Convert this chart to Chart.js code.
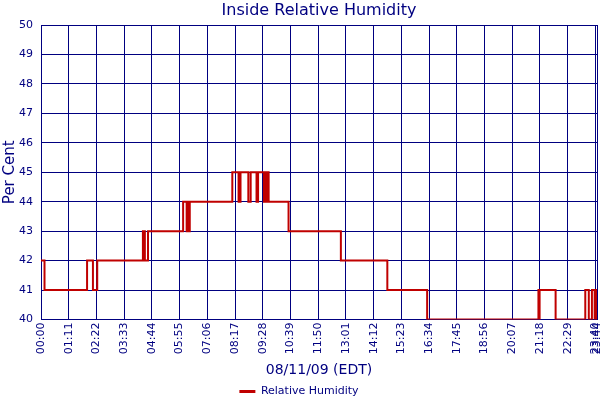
<!DOCTYPE html>
<html>
<head>
<meta charset="utf-8">
<script src="https://cdn.jsdelivr.net/npm/chart.js@4"></script>
<style>
  html, body { margin: 0; padding: 0; background: #fff; }
  #wrap { width: 600px; height: 400px; }
</style>
</head>
<body>
<div id="wrap"><canvas id="chart"></canvas></div>
<script>
// change points: from each time on, the value holds
const times = ['00:00', '00:09', '01:58', '02:13', '02:24', '04:21', '04:26', '04:34',
    '06:04', '06:13', '06:16', '06:17', '06:21', '08:10', '08:26', '08:31', '08:51',
    '08:57', '09:12', '09:16', '09:31', '09:34', '09:37', '09:39', '09:43', '10:34',
    '12:48', '14:47', '16:29', '21:14', '21:16', '21:17', '21:58', '23:14', '23:23',
    '23:31', '23:38', '23:39', '23:41', '23:42', '23:44'];
const humidity = [42, 41, 42, 41, 42, 43, 42, 43,
    44, 43, 44, 43, 44, 45, 44, 45, 44,
    45, 44, 45, 44, 45, 44, 45, 44, 43,
    42, 41, 40, 41, 40, 41, 40, 41, 40,
    41, 40, 41, 40, 41, 41];
const xTickLabels = ['00:00', '01:11', '02:22', '03:33', '04:44', '05:55', '07:06', '08:17',
    '09:28', '10:39', '11:50', '13:01', '14:12', '15:23', '16:34', '17:45', '18:56',
    '20:07', '21:18', '22:29', '23:40', '23:44'];
const yMin = 40, yMax = 50;

const NAVY = '#000080';
const RED = '#c00000';
const FONT = 'DejaVu Sans';
const TITLE = 'Inside Relative Humidity';

const toMin = (s) => {
    const p = s.split(':');
    return parseInt(p[0], 10) * 60 + parseInt(p[1], 10);
};
const fmt = (m) => {
    const h = Math.floor(m / 60), mm = Math.round(m % 60);
    return String(h).padStart(2, '0') + ':' + String(mm).padStart(2, '0');
};

const points = times.map((t, i) => ({ x: toMin(t), y: humidity[i] }));
const tickMinutes = xTickLabels.map(toMin);

// title centred over the plot area, not the whole canvas
const plotTitle = {
    id: 'plotTitle',
    afterDraw(chart) {
        const { ctx, chartArea } = chart;
        ctx.save();
        ctx.fillStyle = NAVY;
        ctx.font = '16px "' + FONT + '"';
        ctx.textAlign = 'center';
        ctx.textBaseline = 'middle';
        ctx.fillText(TITLE, (chartArea.left + chartArea.right) / 2, 11);
        ctx.restore();
    }
};

new Chart(document.getElementById('chart'), {
    type: 'line',
    data: {
        datasets: [{
            label: 'Relative Humidity',
            data: points,
            borderColor: RED,
            backgroundColor: RED,
            borderWidth: 2,
            pointRadius: 0,
            stepped: true,
            fill: false
        }]
    },
    plugins: [plotTitle],
    options: {
        responsive: true,
        maintainAspectRatio: false,
        animation: false,
        layout: { padding: { left: 1, right: 3, top: 25, bottom: -7 } },
        plugins: {
            title: { display: false },
            legend: {
                position: 'bottom',
                labels: {
                    color: NAVY,
                    font: { family: FONT, size: 11 },
                    usePointStyle: true,
                    pointStyle: 'line',
                    pointStyleWidth: 16,
                    padding: 1,
                    generateLabels: (chart) => {
                        const items = Chart.defaults.plugins.legend.labels.generateLabels(chart);
                        items.forEach(it => { it.lineWidth = 3; it.strokeStyle = RED; });
                        return items;
                    }
                }
            },
            tooltip: { enabled: false }
        },
        scales: {
            x: {
                type: 'linear',
                min: tickMinutes[0],
                max: tickMinutes[tickMinutes.length - 1],
                afterBuildTicks: (axis) => {
                    axis.ticks = tickMinutes.map(v => ({ value: v }));
                },
                afterFit: (axis) => {
                    axis.paddingLeft = 0;
                    axis.paddingRight = 0;
                },
                ticks: {
                    color: NAVY,
                    font: { family: FONT, size: 11 },
                    minRotation: 90,
                    maxRotation: 90,
                    autoSkip: false,
                    padding: 3,
                    callback: (v) => fmt(v)
                },
                grid: { color: NAVY, lineWidth: 1, drawTicks: false },
                border: { color: NAVY, width: 1 },
                title: {
                    display: true,
                    text: '08/11/09 (EDT)',
                    color: NAVY,
                    font: { family: FONT, size: 14 },
                    padding: { top: 5, bottom: 6 }
                }
            },
            y: {
                min: yMin,
                max: yMax,
                afterFit: (axis) => {
                    axis.width = 40;
                },
                ticks: {
                    stepSize: 1,
                    color: NAVY,
                    font: { family: FONT, size: 11 },
                    padding: 8
                },
                grid: { color: NAVY, lineWidth: 1, drawTicks: false },
                border: { color: NAVY, width: 1 },
                title: {
                    display: true,
                    text: 'Per Cent',
                    color: NAVY,
                    font: { family: FONT, size: 15 },
                    padding: { top: 0, bottom: 0 }
                }
            }
        }
    }
});
</script>
</body>
</html>
